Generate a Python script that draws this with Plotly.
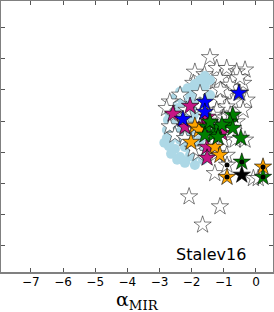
import plotly.graph_objects as go

# Light-blue comparison sample (circles)
cloud_x = [-1.59, -1.43, -1.74, -1.90, -1.59, -2.12, -1.80, -2.36, -2.05, -1.74,
           -2.52, -2.27, -1.96, -2.68, -2.43, -2.12, -1.80, -2.71, -2.55, -2.24,
           -1.93, -2.74, -2.61, -2.30, -1.99, -2.77, -2.68, -2.36, -2.05, -2.77,
           -2.68, -2.36, -2.05, -2.71, -2.52, -2.21, -1.90, -2.64, -2.36, -2.05,
           -1.74, -2.21, -1.90, -1.65, -1.59, -1.52, -1.59, -1.74, -1.43, -2.45,
           -2.20, -1.95, -2.50, -2.85, -2.00]
cloud_y = [6.45, 6.32, 6.32, 6.19, 6.13, 6.06, 6.00, 5.94, 5.84, 5.81,
           5.74, 5.61, 5.61, 5.55, 5.42, 5.42, 5.42, 5.29, 5.19, 5.16,
           5.19, 5.03, 4.90, 4.90, 4.97, 4.71, 4.61, 4.65, 4.71, 4.45,
           4.35, 4.39, 4.45, 4.19, 4.10, 4.16, 4.23, 3.94, 3.84, 3.90,
           4.00, 3.65, 3.58, 3.74, 5.68, 5.19, 4.71, 4.39, 5.84, 3.75,
           3.70, 3.85, 4.60, 4.30, 5.95]

# White stars behind the cloud
white_back_x = [-1.43, -1.90, -1.22, -0.91, -0.34, -0.60, -0.71, -1.12, -1.53, -1.33,
                -0.81, -0.40, -0.91, -0.29, -0.71, -1.12, -1.95, -0.40, -0.91, -1.22,
                -1.33, -0.60, -0.65, -0.34, -1.02, -1.22, -0.91, -1.28, -0.08, 0.07,
                -2.08, -1.12, -1.66, -1.00, -1.50, -0.80, -1.60, -1.10, -0.50, -0.50,
                -0.90]
white_back_y = [7.05, 6.58, 6.70, 6.70, 6.65, 6.59, 6.38, 6.38, 6.16, 5.95,
                6.16, 6.22, 5.89, 5.68, 5.62, 5.68, 6.22, 5.35, 5.46, 5.35,
                5.19, 4.98, 4.39, 4.39, 4.39, 3.96, 3.90, 3.31, 3.15, 3.15,
                2.56, 2.24, 1.65, 5.10, 5.00, 5.20, 6.50, 6.00, 5.90, 6.40,
                3.58]

# White stars in front of the cloud
white_front_x = [-2.36, -2.68, -2.78, -2.57, -2.16, -2.16, -2.68, -2.52, -2.21, -1.74,
                 -1.80, -1.74, -1.74, -1.40, -1.95]
white_front_y = [5.84, 5.62, 5.41, 5.19, 5.35, 4.87, 4.82, 4.55, 4.44, 4.82,
                 3.96, 5.46, 5.89, 4.60, 4.10]

magenta_x = [-2.21, -1.65, -1.52, -1.06, -2.05, -2.58, -1.52, -1.52]
magenta_y = [4.81, 4.87, 5.13, 4.61, 5.48, 5.23, 4.16, 3.81]

blue_x = [-0.53, -2.27, -1.59, -1.59]
blue_y = [5.90, 5.06, 5.61, 5.29]

orange_x = [-1.90, -1.77, -2.02, -1.28, -1.12, -0.90, 0.22]
orange_y = [4.84, 4.71, 4.32, 4.16, 3.90, 3.19, 3.52]

green_x = [-0.72, -0.81, -0.72, -0.47, -1.52, -1.21, -1.34, -1.06, -1.59, -1.18,
           -1.43, -0.44, 0.22]
green_y = [5.19, 4.97, 4.77, 4.45, 4.81, 4.77, 4.55, 4.87, 4.55, 4.48,
           4.97, 3.68, 3.19]

black_star_x = [-0.44]
black_star_y = [3.26]

dot_x = [-0.90, -0.90, -0.44, -0.44, 0.22, 0.22]
dot_y = [3.58, 3.19, 3.68, 3.26, 3.52, 3.19]

x_ticks = [-7, -6, -5, -4, -3, -2, -1, 0]
x_tick_text = ["\u22127", "\u22126", "\u22125", "\u22124", "\u22123", "\u22122", "\u22121", "0"]
y_ticks = [1, 2, 3, 4, 5, 6, 7, 8]

STAR = 13

fig = go.Figure()


def stars(x, y, color, lw=0.6, size=STAR):
    fig.add_trace(go.Scatter(
        x=x, y=y, mode="markers", cliponaxis=False,
        marker=dict(symbol="star", size=size, color=color,
                    line=dict(color="black", width=lw)),
        hoverinfo="skip", showlegend=False))


stars(white_back_x, white_back_y, "white", 0.5)
fig.add_trace(go.Scatter(
    x=cloud_x, y=cloud_y, mode="markers",
    marker=dict(symbol="circle", size=10, color="#add8e6", line=dict(width=0)),
    hoverinfo="skip", showlegend=False))
stars(white_front_x, white_front_y, "white", 0.5)
stars(magenta_x, magenta_y, "#c71585")
stars(blue_x, blue_y, "#0000ff")
stars(orange_x, orange_y, "#ffa500")
stars(green_x, green_y, "#008000")
stars(black_star_x, black_star_y, "black")
fig.add_trace(go.Scatter(
    x=dot_x, y=dot_y, mode="markers",
    marker=dict(symbol="circle", size=5, color="black", line=dict(width=0)),
    hoverinfo="skip", showlegend=False))

axis_common = dict(showgrid=False, zeroline=False, showline=True, linecolor="#808080",
                   linewidth=2, mirror="allticks", ticks="inside", ticklen=4,
                   tickcolor="#555555", tickwidth=1)

fig.update_layout(
    width=274, height=312,
    margin=dict(l=1, r=1, t=1, b=40, autoexpand=False),
    paper_bgcolor="white", plot_bgcolor="white",
    font=dict(family="DejaVu Sans", color="black", size=12),
    xaxis=dict(range=[-7.93, 0.53], tickvals=x_ticks, ticktext=x_tick_text,
               tickfont=dict(size=12, family="DejaVu Sans"),
               ticklabelstandoff=-2,
               **axis_common),
    yaxis=dict(range=[0.13, 8.87], tickvals=y_ticks, showticklabels=False,
               **axis_common),
    annotations=[
        dict(text="Stalev16", xref="paper", yref="paper",
             x=0.772, y=0.063, xanchor="center", yanchor="middle", showarrow=False,
             font=dict(family="DejaVu Sans", size=16, color="black")),
        dict(text="\u03b1<sub>MIR</sub>", xref="paper", yref="paper",
             x=0.5, y=-0.106, xanchor="center", yanchor="middle", showarrow=False,
             font=dict(family="DejaVu Serif", size=19, color="black")),
    ],
)

fig.write_html(
    "out.html",
    config={"displayModeBar": False},
    post_script="document.body.style.margin='0';document.body.style.padding='0';",
)
